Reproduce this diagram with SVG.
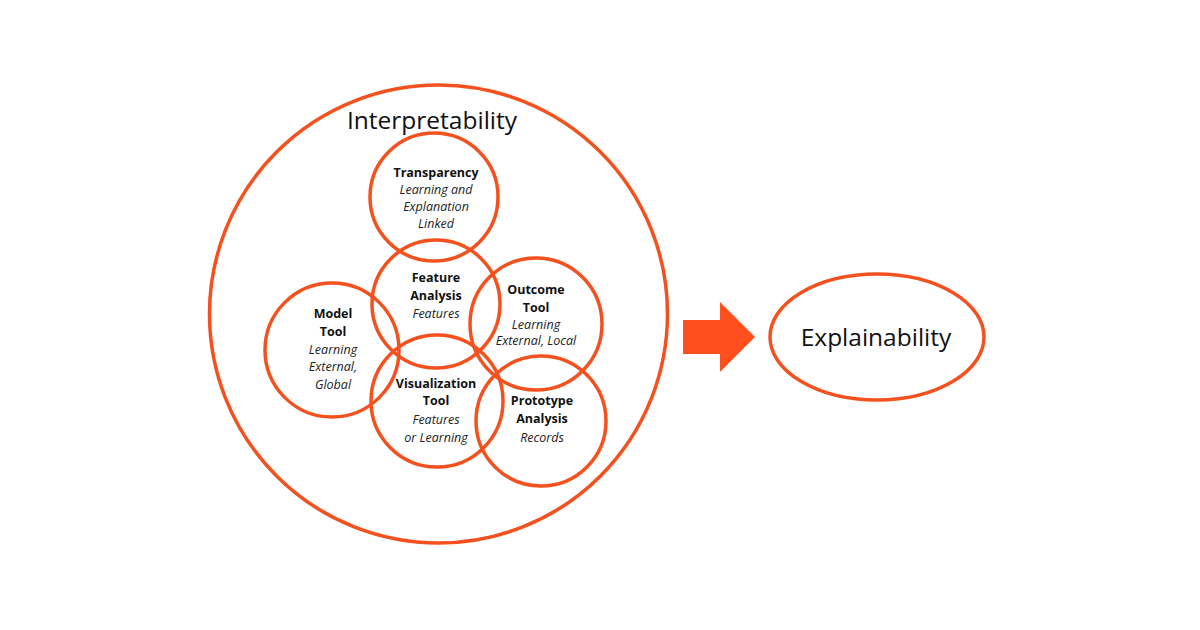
<svg xmlns="http://www.w3.org/2000/svg" width="1200" height="630" viewBox="0 0 1200 630">
<style>
.c{fill:none;stroke:#F4511E;stroke-width:3.5}
.b{font-family:"Open Sans","Liberation Sans",sans-serif;font-weight:bold;font-size:12.5px;fill:#111;text-anchor:middle}
.i{font-family:"Open Sans","Liberation Sans",sans-serif;font-style:italic;font-size:12.5px;fill:#222;text-anchor:middle}
.big{font-family:"Open Sans","Liberation Sans",sans-serif;font-size:24.5px;fill:#111;text-anchor:middle}
</style>
<rect width="1200" height="630" fill="#fff"/>
<g id="interpretability">
<circle class="c" cx="438.5" cy="314" r="229"/>
<text class="big" x="432" y="129" font-size="25">Interpretability</text>
</g>
<g id="transparency">
<circle class="c" cx="434" cy="197" r="64"/>
<text class="b" x="436" y="177">Transparency</text>
<text class="i" x="436" y="194">Learning and</text>
<text class="i" x="436" y="211">Explanation</text>
<text class="i" x="436" y="228">Linked</text>
</g>
<g id="feature-analysis">
<circle class="c" cx="436" cy="304" r="64"/>
<text class="b" x="436" y="282">Feature</text>
<text class="b" x="436" y="300">Analysis</text>
<text class="i" x="436" y="318">Features</text>
</g>
<g id="model-tool">
<circle class="c" cx="332" cy="350" r="67"/>
<text class="b" x="333" y="318">Model</text>
<text class="b" x="333" y="336">Tool</text>
<text class="i" x="333" y="354">Learning</text>
<text class="i" x="333" y="371">External,</text>
<text class="i" x="333" y="389">Global</text>
</g>
<g id="outcome-tool">
<circle class="c" cx="536" cy="324" r="66"/>
<text class="b" x="536" y="294">Outcome</text>
<text class="b" x="536" y="312">Tool</text>
<text class="i" x="536" y="329">Learning</text>
<text class="i" x="536" y="345">External, Local</text>
</g>
<g id="visualization-tool">
<circle class="c" cx="437" cy="401" r="66"/>
<text class="b" x="436" y="388">Visualization</text>
<text class="b" x="436" y="405">Tool</text>
<text class="i" x="436" y="424">Features</text>
<text class="i" x="436" y="442">or Learning</text>
</g>
<g id="prototype-analysis">
<circle class="c" cx="541" cy="421" r="65"/>
<text class="b" x="542" y="405">Prototype</text>
<text class="b" x="542" y="423">Analysis</text>
<text class="i" x="542" y="442">Records</text>
</g>
<g id="connectors">
<polygon points="683,320 720,320 720,302 755,337 720,372 720,354 683,354" fill="#FF4F1F"/>
</g>
<g id="explainability">
<ellipse class="c" cx="877" cy="337" rx="107" ry="63"/>
<text class="big" x="876" y="346">Explainability</text>
</g>
</svg>
